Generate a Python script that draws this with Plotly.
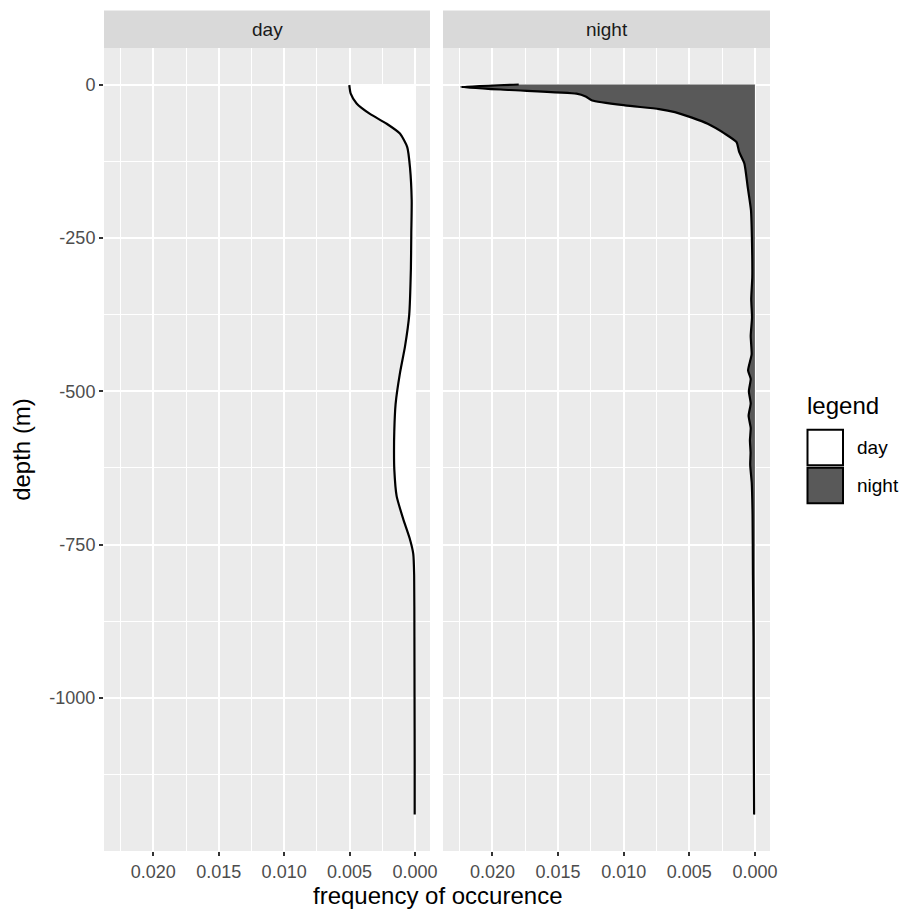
import plotly.graph_objects as go

# ---- data ----
day_depth = [-1, -15, -31, -48, -64, -80, -102, -135, -189, -243, -300, -376, -427,
             -471, -521, -565, -600, -627, -671, -708, -740, -765, -800, -900, -1000, -1100, -1190]
day_freq = [0.00502, 0.00491, 0.00446, 0.00344, 0.00216, 0.00115, 0.00059, 0.00038, 0.00025,
            0.00028, 0.00031, 0.00044, 0.00076, 0.00115, 0.00148, 0.00158, 0.00160, 0.00158,
            0.00140, 0.00090, 0.00040, 0.00013, 0.00006, 0.00004, 0.00003, 0.00002, 0.00002]

night_depth = [0, -4, -9, -15, -19.5, -26, -34, -40, -45, -54, -64, -80, -94, -110, -129, -167,
               -205, -259, -314, -350, -380, -410, -440, -466, -480, -500, -520, -540, -560,
               -580, -600, -620, -650, -700, -800, -900, -1000, -1100, -1190]
night_freq = [0.0180, 0.0224, 0.0187, 0.0136, 0.0129, 0.0124, 0.0099, 0.0073, 0.0061, 0.0048,
              0.0036, 0.0023, 0.0014, 0.0012, 0.0008, 0.00055, 0.0003, 0.00022, 0.00020, 0.00028,
              0.00022, 0.00032, 0.00025, 0.00052, 0.00032, 0.00046, 0.00032, 0.00048, 0.00032, 0.00038,
              0.00033, 0.00036, 0.00024, 0.00018, 0.00015, 0.00011, 0.0001, 0.00008, 0.00006]

x_ticks = [0.020, 0.015, 0.010, 0.005, 0.000]
x_ticktext = ["0.020", "0.015", "0.010", "0.005", "0.000"]
x_minor = [0.0225, 0.0175, 0.0125, 0.0075, 0.0025]
y_ticks = [0, -250, -500, -750, -1000]
y_ticktext = ["0", "-250", "-500", "-750", "-1000"]
y_minor = [-125, -375, -625, -875, -1125]
panels = ["day", "night"]
legend_labels = ["day", "night"]
fills = {"day": "#FFFFFF", "night": "#595959"}

FONT = "Liberation Sans, Arial, sans-serif"
O = 8  # page body margin offset
W, H = 913 - O, 910 - O
L, R, T, B = 104, 770, 47.5, 851  # target pixel positions in the window


def px(x):
    return (x - L) / (R - L)


def py(y):
    return (B - y) / (B - T)


fig = go.Figure()
fig.add_trace(go.Scatter(x=day_freq, y=day_depth, mode="lines", fill="tozerox",
                         fillcolor=fills["day"], line=dict(color="black", width=2.2, shape="spline", smoothing=0.6),
                         xaxis="x", yaxis="y", showlegend=False, hoverinfo="skip"))
fig.add_trace(go.Scatter(x=night_freq, y=night_depth, mode="lines", fill="tozerox",
                         fillcolor=fills["night"], line=dict(color="black", width=2.2, shape="spline", smoothing=0.5),
                         xaxis="x2", yaxis="y2", showlegend=False, hoverinfo="skip"))

xrange = [0.02377, -0.00115]
yrange = [-1249.5, 59.5]

common_x = dict(range=xrange, tickmode="array", tickvals=x_ticks, ticktext=x_ticktext,
                showgrid=True, gridcolor="white", gridwidth=2, zeroline=False, showline=False,
                ticks="outside", ticklen=4, tickwidth=1.5, tickcolor="#333333",
                tickfont=dict(family=FONT, size=18, color="#4D4D4D"),
                minor=dict(tickvals=x_minor, showgrid=True, gridcolor="white", gridwidth=1, ticks=""),
                fixedrange=True)
common_y = dict(range=yrange, tickmode="array", tickvals=y_ticks, ticktext=y_ticktext,
                showgrid=True, gridcolor="white", gridwidth=2, zeroline=False, showline=False,
                minor=dict(tickvals=y_minor, showgrid=True, gridcolor="white", gridwidth=1, ticks=""),
                fixedrange=True)

fig.update_layout(
    width=W, height=H,
    margin=dict(l=L - O, r=913 - R, t=T - O, b=910 - B, pad=0),
    paper_bgcolor="white", plot_bgcolor="#EBEBEB",
    showlegend=False,
    xaxis=dict(domain=[0, (430 - L) / (R - L)], **common_x),
    xaxis2=dict(domain=[(443 - L) / (R - L), 1], **common_x),
    yaxis=dict(anchor="x", ticks="outside", ticklen=4, tickwidth=1.5, tickcolor="#333333",
               tickfont=dict(family=FONT, size=18, color="#4D4D4D"),
               title=dict(text="depth (m)", font=dict(family=FONT, size=24, color="black"), standoff=12),
               **common_y),
    yaxis2=dict(anchor="x2", matches="y", showticklabels=False, ticks="", **common_y),
    font=dict(family=FONT),
)

shapes = []
annotations = []
# strips
for i, name in enumerate(panels):
    x0, x1 = (L, 430) if i == 0 else (443, R)
    shapes.append(dict(type="rect", xref="paper", yref="paper", x0=px(x0), x1=px(x1),
                       y0=py(47.5), y1=py(10), fillcolor="#D9D9D9", line=dict(width=0), layer="below"))
    annotations.append(dict(text=name, xref="paper", yref="paper", x=px((x0 + x1) / 2), y=py(29),
                            showarrow=False, font=dict(family=FONT, size=19, color="#1A1A1A"),
                            xanchor="center", yanchor="middle"))

# x-axis title
annotations.append(dict(text="frequency of occurence", xref="paper", yref="paper",
                        x=px(437), y=py(896), showarrow=False, xanchor="center", yanchor="middle",
                        font=dict(family=FONT, size=24, color="black")))

# legend (manual)
annotations.append(dict(text="legend", xref="paper", yref="paper", x=px(805), y=py(405),
                        showarrow=False, xanchor="left", yanchor="middle",
                        font=dict(family=FONT, size=24, color="black")))
key_tops = [429.5, 467.5]
for lab, top in zip(legend_labels, key_tops):
    shapes.append(dict(type="rect", xref="paper", yref="paper", x0=px(807.5), x1=px(843),
                       y0=py(top + 35.5), y1=py(top), fillcolor=fills[lab],
                       line=dict(color="black", width=2)))
    annotations.append(dict(text=lab, xref="paper", yref="paper", x=px(855), y=py(top + 18),
                            showarrow=False, xanchor="left", yanchor="middle",
                            font=dict(family=FONT, size=19, color="black")))

fig.update_layout(shapes=shapes, annotations=annotations)
fig.write_html("out.html")
